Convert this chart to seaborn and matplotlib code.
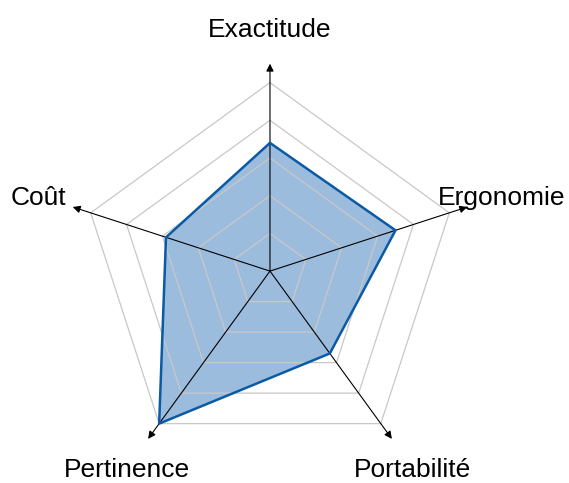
import numpy as np
import pandas as pd
import matplotlib
matplotlib.use("Agg")
import matplotlib.pyplot as plt
import seaborn as sns

categories = ["Exactitude", "Ergonomie", "Portabilité", "Pertinence", "Coût"]
values = [3.4, 3.5, 2.7, 5.0, 2.9]
grid_levels = [1, 2, 3, 4, 5]

sns.set_theme(style="white")
plt.rcParams["font.family"] = ["Liberation Sans", "DejaVu Sans"]

n = len(categories)
angles = np.deg2rad(90 - 360 / n * np.arange(n))

fig = plt.figure(figsize=(5.69, 4.83), dpi=100)
ax = fig.add_axes([0, 0, 1, 1])
ax.set_xlim(-7.16, 7.93)
ax.set_ylim(-5.62, 7.19)
ax.axis("off")

# data polygon
xs = np.array(values) * np.cos(angles)
ys = np.array(values) * np.sin(angles)
df = pd.DataFrame({"x": np.append(xs, xs[0]), "y": np.append(ys, ys[0])})
ax.fill(df["x"], df["y"], color="#3a7bbd", alpha=0.5, lw=0, zorder=1)

# grid pentagons
for lv in grid_levels:
    gx = lv * np.cos(angles)
    gy = lv * np.sin(angles)
    ax.plot(np.append(gx, gx[0]), np.append(gy, gy[0]), color="#c8c8c8", lw=0.9, zorder=2)

# axes arrows
axis_len = 5.5
for a in angles:
    ax.annotate("", xy=(axis_len * np.cos(a), axis_len * np.sin(a)), xytext=(0, 0),
                arrowprops=dict(arrowstyle="-|>", color="black", lw=0.8,
                                mutation_scale=11, shrinkA=0, shrinkB=0),
                zorder=3)

sns.lineplot(data=df, x="x", y="y", sort=False, estimator=None, ax=ax,
             color="#0a5aa5", lw=1.8, zorder=4)
ax.set_xlabel("")
ax.set_ylabel("")

label_r = 6.45
for cat, a in zip(categories, angles):
    ax.text(label_r * np.cos(a), label_r * np.sin(a), cat, ha="center",
            va="center_baseline", fontsize=19, color="black")

fig.savefig("out.png", dpi=100)
